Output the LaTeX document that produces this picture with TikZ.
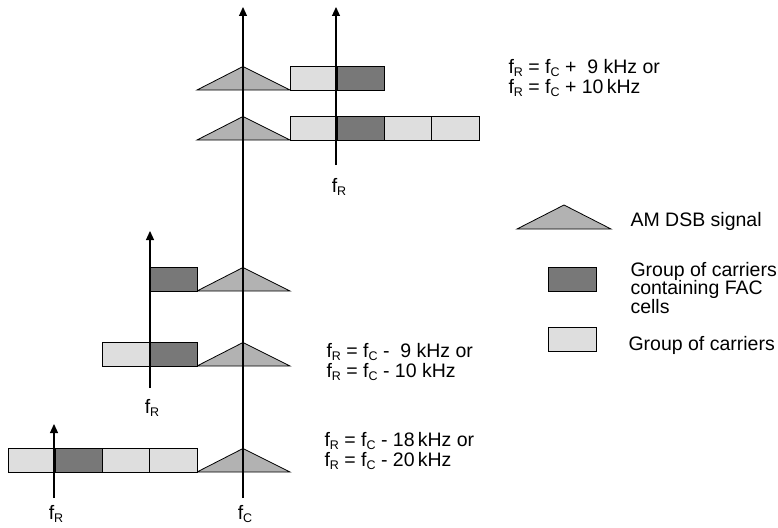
\documentclass[tikz,border=0pt]{standalone}
\usepackage{fontspec}
\setmainfont{Liberation Sans}
\usetikzlibrary{arrows.meta, positioning}

\newcommand{\sfreq}[1]{f\raisebox{-0.35ex}{\fontsize{12.5}{12.5}\selectfont #1}}

\begin{document}
\begin{tikzpicture}[x=1pt, y=-1pt,
  every node/.style={font=\fontsize{19.5}{20}\selectfont},
  >=Triangle,
  axis/.style={-{Triangle[width=8pt,length=9pt]}, line width=1.2pt},
  carrier/.style={draw, line width=0.8pt, inner sep=0pt, outer sep=0pt,
    minimum width=47.25pt, minimum height=24pt},
  lightcar/.style={carrier, fill=black!13},
  darkcar/.style={carrier, fill=black!53},
  amsig/.style={draw, line width=0.8pt, fill=black!30},
  eqtext/.style={anchor=west, align=left}
]
\useasboundingbox (0,0) rectangle (778,527);

% AM DSB signals, one per row
\foreach \y in {90,140,291,366,472}
  \draw[amsig] (197,\y) -- (243,\y-23.5) -- (290,\y) -- cycle;

% row 1
\node[lightcar, anchor=north west] (ra1) at (290,66) {};
\node[darkcar, right=0pt of ra1] (ra2) {};
% row 2
\node[lightcar, anchor=north west] (rb1) at (290,116) {};
\node[darkcar, right=0pt of rb1] (rb2) {};
\node[lightcar, right=0pt of rb2] (rb3) {};
\node[lightcar, right=0pt of rb3] (rb4) {};
% row 3
\node[darkcar, anchor=north east] (rc1) at (197,267) {};
% row 4
\node[darkcar, anchor=north east] (rd2) at (197,342) {};
\node[lightcar, left=0pt of rd2] (rd1) {};
% row 5
\node[lightcar, anchor=north east] (re4) at (197,448) {};
\node[lightcar, left=0pt of re4] (re3) {};
\node[darkcar, left=0pt of re3] (re2) {};
\node[lightcar, left=0pt of re2] (re1) {};

% axes
\coordinate (fcbot) at (243,498);
\coordinate (fctop) at (243,7);
\coordinate (frabot) at (336,165);
\coordinate (fratop) at (336,7);
\coordinate (frbbot) at (150,388);
\coordinate (frbtop) at (150,231);
\coordinate (frcbot) at (54,498);
\coordinate (frctop) at (54,424);
\draw[axis] (fcbot) -- (fctop);
\draw[axis] (frabot) -- (fratop);
\draw[axis] (frbbot) -- (frbtop);
\draw[axis] (frcbot) -- (frctop);

\node (lblfc) at (245,514) {\sfreq{C}};
\node (lblfra) at (339,187) {\sfreq{R}};
\node (lblfrb) at (152,408) {\sfreq{R}};
\node (lblfrc) at (56,514) {\sfreq{R}};

% offsets
\node[eqtext] (eqplus) at (505,78)
  {\sfreq{R} = \sfreq{C} +\ \ 9 kHz or\\ \sfreq{R} = \sfreq{C} + 10\,kHz};
\node[eqtext] (eqminus) at (323,362)
  {\sfreq{R} = \sfreq{C} -\ \ 9 kHz or\\ \sfreq{R} = \sfreq{C} - 10 kHz};
\node[eqtext] (eqminusb) at (321,451)
  {\sfreq{R} = \sfreq{C} - 18\,kHz or\\ \sfreq{R} = \sfreq{C} - 20\,kHz};

% legend
\draw[amsig] (517,229) -- (564,205) -- (611,229) -- cycle;
\node[darkcar, anchor=north west, minimum width=48pt] (legdark) at (548,267) {};
\node[lightcar, anchor=north west, minimum width=48pt] (leglight) at (548,327) {};
\node[eqtext] (legam) at (627,221) {AM DSB signal};
\node[eqtext, align=left, font=\fontsize{19.5}{18.5}\selectfont] (legfac) at (627,288)
  {Group of carriers\\ containing FAC\\ cells};
\node[eqtext] (legcar) at (625,345) {Group of carriers};
\end{tikzpicture}
\end{document}
